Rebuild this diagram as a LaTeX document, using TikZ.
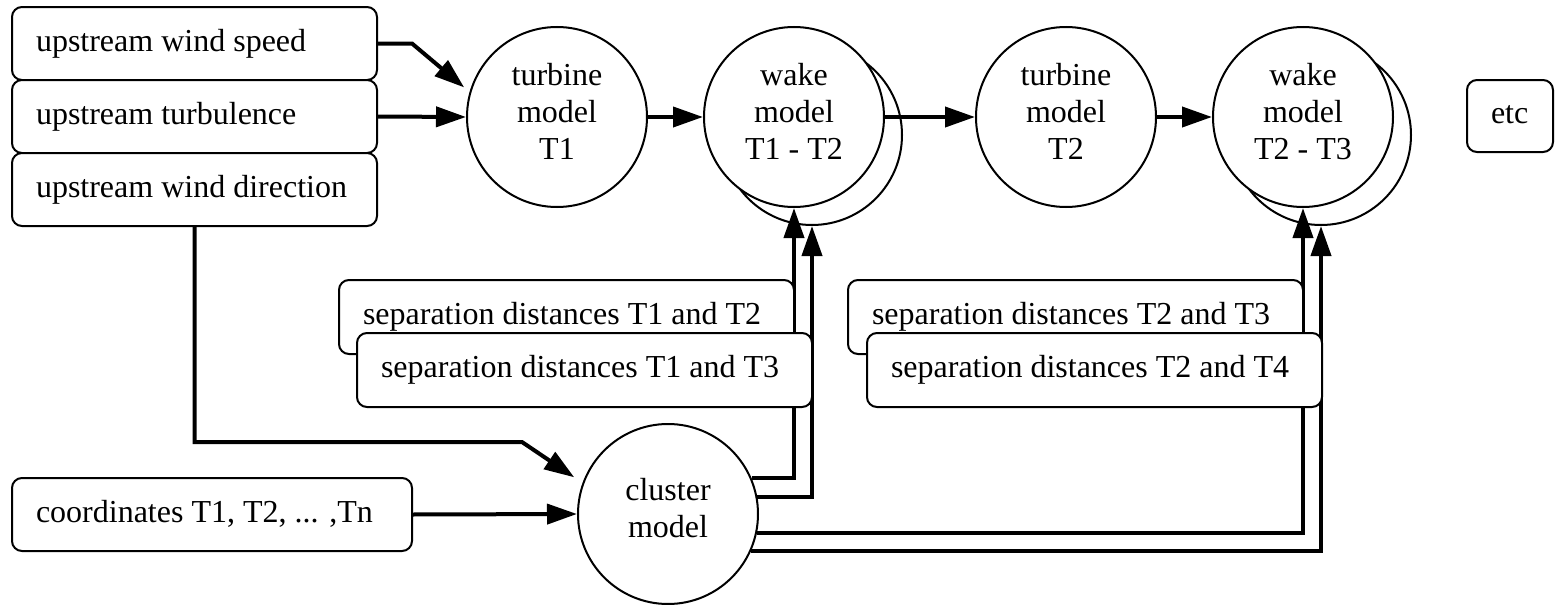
\documentclass[tikz,border=0pt]{standalone}
\usepackage{fontspec}
\setmainfont{Liberation Serif}
\usetikzlibrary{arrows.meta}
\newcommand{\mydrop}{\rule[-6pt]{0pt}{6pt}}
\newcommand{\lfit}[2]{\makebox[#1][l]{#2}}
\begin{document}
\begin{tikzpicture}[x=0.5pt,y=-0.5pt,
  every node/.style={font=\fontsize{16}{18.5}\selectfont},
  box/.style={draw, line width=1pt, rounded corners=5pt, fill=white, inner xsep=12pt, inner ysep=0pt,
              text height=9pt, text depth=1.5pt},
  rnd/.style={circle, draw, line width=1pt, fill=white, minimum size=90pt, inner sep=0pt, align=center},
  conn/.style={line width=2pt, -{Triangle[length=15pt,width=10pt]}},
]
\useasboundingbox (0,0) rectangle (1555,605);

% input boxes
\node[box, minimum height=36.5pt] (spd) at (194.5,43.5) {\lfit{158.5pt}{upstream wind speed}};
\node[box, minimum height=36.5pt] (tur) at (194.5,116.5) {\lfit{158.5pt}{upstream turbulence}};
\node[box, minimum height=36.5pt] (dir) at (194.5,189.5) {\lfit{158.5pt}{upstream wind direction}};
\node[box, minimum height=36.5pt] (crd) at (212,514.5) {\lfit{176pt}{coordinates T1, T2, ... ,Tn}};
\node[box, minimum height=36pt] (etc) at (1510,116) {\lfit{19pt}{etc}};

% circles
\node[rnd] (w12b) at (812,135) {};
\node[rnd] (w23b) at (1321,135) {};
\node[rnd] (t1) at (557,117) {turbine\\model\\T1\mydrop};
\node[rnd] (w12) at (794,117) {wake\\model\\T1 - T2\mydrop};
\node[rnd] (t2) at (1066,117) {turbine\\model\\T2\mydrop};
\node[rnd] (w23) at (1303,117) {wake\\model\\T2 - T3\mydrop};
\node[rnd] (cl) at (668,514) {cluster\\model\mydrop};

% cluster to wake models
\draw[conn] (cl.23) -| (w12.south);
\draw[conn] (cl.11) -| (w12b.south);
\draw[conn] (cl.348) -| (w23.south);
\draw[conn] (cl.336) -| (w23b.south);

% separation boxes
\node[box, minimum height=37pt] (s12) at (566.5,317) {\lfit{203.5pt}{separation distances T1 and T2}};
\node[box, minimum height=37pt] (s13) at (584.5,370) {\lfit{203.5pt}{separation distances T1 and T3}};
\node[box, minimum height=37pt] (s23) at (1075.5,317) {\lfit{203.5pt}{separation distances T2 and T3}};
\node[box, minimum height=37pt] (s24) at (1094.5,370) {\lfit{203.5pt}{separation distances T2 and T4}};

% other connectors
\coordinate (b1) at (412,43.5);
\draw[conn, shorten >=3.5pt] (spd.east) -- (b1) -- (t1.164);
\draw[conn] (tur.east) -- (t1.west);
\draw[conn] (t1.east) -- (w12.west);
\draw[conn] (w12.east) -- (t2.west);
\draw[conn] (t2.east) -- (w23.west);
\coordinate (b2) at (522,442);
\draw[conn, shorten >=5pt] (dir.south) |- (b2) -- (cl.160);
\draw[conn] (crd.east) -- (cl.west);
\end{tikzpicture}
\end{document}
